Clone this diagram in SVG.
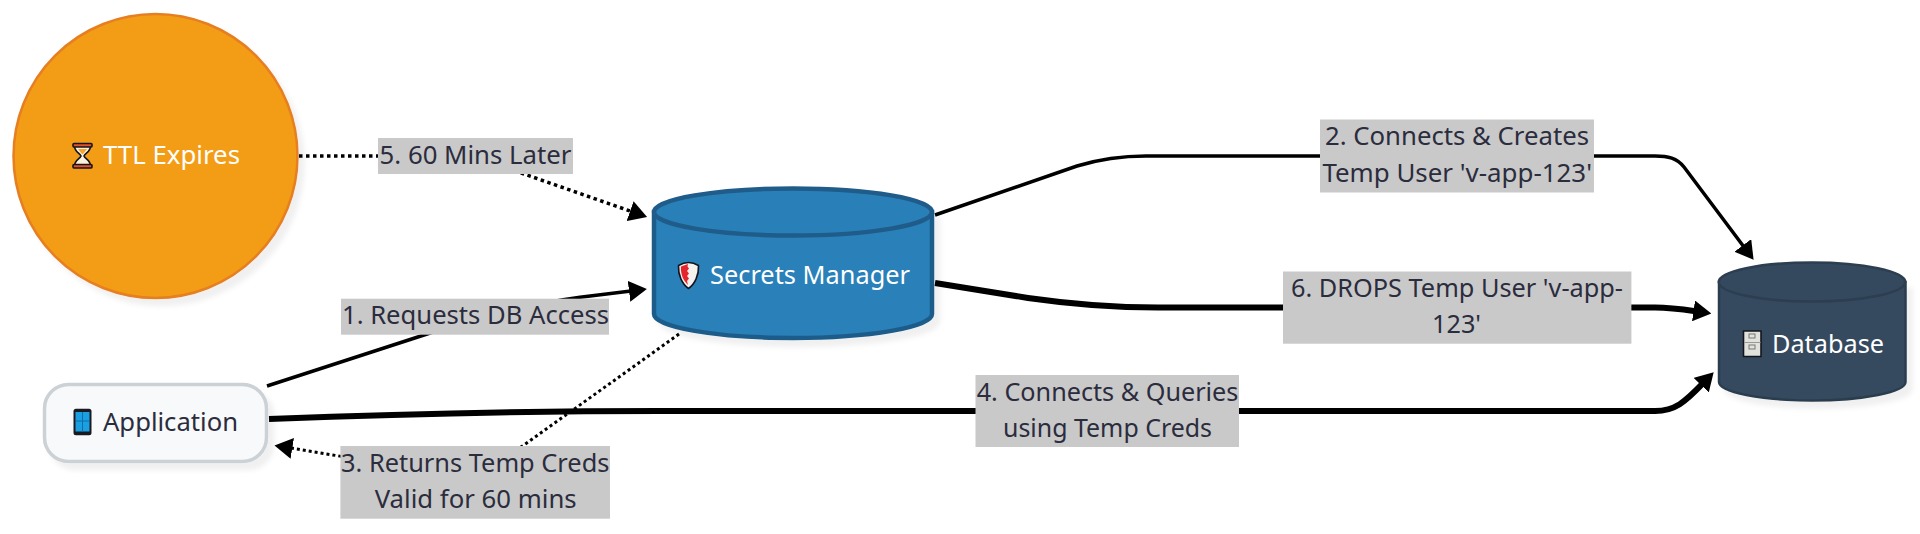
<svg xmlns="http://www.w3.org/2000/svg" width="1920" height="534" viewBox="0 0 1920 534">
<style>
text{font-family:"Noto Sans","Liberation Sans",sans-serif;font-size:25px}
.lt{fill:#2b2c3d}
.wt{fill:#fff}
.lb{fill:#c9c9c9}
.c{fill:none;stroke:#000}
.thin{stroke-width:3.5}
.thick{stroke-width:6}
.dot{stroke-width:3.5;stroke-dasharray:3.5 3.5}
.dot2{stroke-width:3;stroke-dasharray:3 3}
.sh{filter:url(#shadow)}
.ik{stroke:#14141c;stroke-width:1.6;stroke-linejoin:round}
</style>
<defs>
<filter id="shadow" x="-10%" y="-10%" width="125%" height="125%"><feDropShadow dx="6" dy="7" stdDeviation="2.5" flood-color="#000" flood-opacity="0.06"/></filter>
<marker id="ah" viewBox="0 0 18 21" refX="2" refY="10.5" markerWidth="18" markerHeight="21" markerUnits="userSpaceOnUse" orient="auto"><path d="M0,0L18,10.5L0,21Z" fill="#000"/></marker>
</defs>
<rect width="1920" height="534" fill="#fff"/>
<g id="connectors">
<path class="c dot" d="M299,156H440C470,156 495,164 524,174L632,211.7" marker-end="url(#ah)"/>
<path class="c thin" d="M267,386L424,335C470,320 530,304 580,297.3L631,291" marker-end="url(#ah)"/>
<path class="c thin" d="M935,215L1077,166C1100,159 1120,156 1146,156H1655C1668,156 1677,158 1684,167L1744,247" marker-end="url(#ah)"/>
<path class="c dot2" d="M679,334L524,445C495,465 440,470 400,466L290.3,448" marker-end="url(#ah)"/>
<path class="c thick" d="M269,419C400,414 520,411 660,411H1655C1675,411 1685,402 1702.6,383.7" marker-end="url(#ah)"/>
<path class="c thick" d="M935,283L1028,298C1070,304 1110,307.6 1158,307.6H1655C1670,307.6 1680,309 1695.5,311.2" marker-end="url(#ah)"/>
</g>
<g id="node-ttl">
<circle class="sh" cx="155.5" cy="156" r="142" fill="#f39c12" stroke="#e67e22" stroke-width="2.5"/>
<path class="ik" fill="#fbf1dc" d="M74.5,146H90.5C90.5,152 85,153 84,156C85,159 90.5,160 90.5,166H74.5C74.5,160 80,159 81,156C80,153 74.5,152 74.5,146Z"/>
<rect class="ik" fill="#e2512a" x="73" y="143.5" width="19" height="3.5" rx="1"/>
<rect class="ik" fill="#e2512a" x="73" y="164.5" width="19" height="3.5" rx="1"/>
<path fill="#f3a62e" d="M78,149H87L83,154H82Z"/>
<text class="wt" x="103" y="164" textLength="137" lengthAdjust="spacingAndGlyphs">TTL Expires</text>
</g>
<g id="node-app">
<rect class="sh" x="44.5" y="384.5" width="222" height="77" rx="24" fill="#f8f9fa" stroke="#ccd1d6" stroke-width="3.5"/>
<rect fill="#1a1a22" x="73.5" y="408.7" width="18" height="26.5" rx="2.5"/>
<rect fill="#1aa0e0" x="75.5" y="412" width="14" height="19.5"/>
<path d="M75.5,421H89.5M82.5,412V431.5" stroke="#0b6fae" stroke-width="1" fill="none"/>
<text class="lt" x="103" y="431" textLength="135" lengthAdjust="spacingAndGlyphs">Application</text>
</g>
<g id="node-secrets">
<path class="sh" d="M654,212V314C654,327 716,338 793,338C870,338 932,327 932,314V212Z" fill="#2980b9" stroke="#1f5c8a" stroke-width="4.5"/>
<ellipse cx="793" cy="212" rx="139" ry="23.5" fill="#2980b9" stroke="#1f5c8a" stroke-width="4.5"/>
<path class="ik" fill="#f4f1ee" d="M688.5,262.5C692,262.5 696,264 698.5,265.5C699,275 695,284 688.5,288.5C682,284 678,275 678.5,265.5C681,264 685,262.5 688.5,262.5Z"/>
<path fill="#e4262c" d="M688,264L681,266.5C680.5,274 683,280 688,285L687,281L689,278.5L687,276L689,273.5L687,271L689,268.5L687.5,266.5Z"/>
<text class="wt" x="710" y="283.7" textLength="200" lengthAdjust="spacingAndGlyphs">Secrets Manager</text>
</g>
<g id="node-database">
<path class="sh" d="M1719,282V382C1719,392 1761,400.5 1812,400.5C1863,400.5 1905.500,392 1905.500,382V282Z" fill="#34495e" stroke="#2c3e50" stroke-width="2.5"/>
<ellipse cx="1812" cy="282" rx="93.200" ry="19.500" fill="#34495e" stroke="#2c3e50" stroke-width="2.5"/>
<rect class="ik" fill="#e2e2dd" x="1743.500" y="331" width="17.500" height="25.500"/>
<rect x="1749" y="334" width="6" height="4" fill="none" stroke="#777" stroke-width="1"/>
<rect x="1749" y="345" width="6" height="4" fill="none" stroke="#777" stroke-width="1"/>
<path d="M1744,342.500H1760.500" stroke="#999" stroke-width="1"/>
<text class="wt" x="1772" y="352.500" textLength="112" lengthAdjust="spacingAndGlyphs">Database</text>
</g>
<g id="edge-labels">
<g id="label-5"><rect class="lb" x="378" y="138" width="195" height="36"/><text class="lt" x="379.6" y="164" textLength="191.8" lengthAdjust="spacingAndGlyphs">5. 60 Mins Later</text></g>
<g id="label-1"><rect class="lb" x="341" y="298.7" width="268" height="36"/><text class="lt" x="342" y="324" textLength="267" lengthAdjust="spacingAndGlyphs">1. Requests DB Access</text></g>
<g id="label-3"><rect class="lb" x="340.4" y="446" width="269.6" height="72.7"/><text class="lt" x="341" y="471.7" textLength="268.4" lengthAdjust="spacingAndGlyphs">3. Returns Temp Creds</text><text class="lt" x="374.7" y="508" textLength="202" lengthAdjust="spacingAndGlyphs">Valid for 60 mins</text></g>
<g id="label-4"><rect class="lb" x="975.5" y="375" width="263.5" height="72"/><text class="lt" x="976.7" y="400.9" textLength="261.7" lengthAdjust="spacingAndGlyphs">4. Connects &amp; Queries</text><text class="lt" x="1003" y="437" textLength="209" lengthAdjust="spacingAndGlyphs">using Temp Creds</text></g>
<g id="label-2"><rect class="lb" x="1320" y="119.5" width="274" height="73"/><text class="lt" x="1325" y="145.4" textLength="264" lengthAdjust="spacingAndGlyphs">2. Connects &amp; Creates</text><text class="lt" x="1322.4" y="181.5" textLength="269.6" lengthAdjust="spacingAndGlyphs">Temp User 'v-app-123'</text></g>
<g id="label-6"><rect class="lb" x="1283" y="271.5" width="348.4" height="72.2"/><text class="lt" x="1291" y="297.3" textLength="332" lengthAdjust="spacingAndGlyphs">6. DROPS Temp User 'v-app-</text><text class="lt" x="1432" y="332.8" textLength="49" lengthAdjust="spacingAndGlyphs">123'</text></g>
</g>
</svg>
